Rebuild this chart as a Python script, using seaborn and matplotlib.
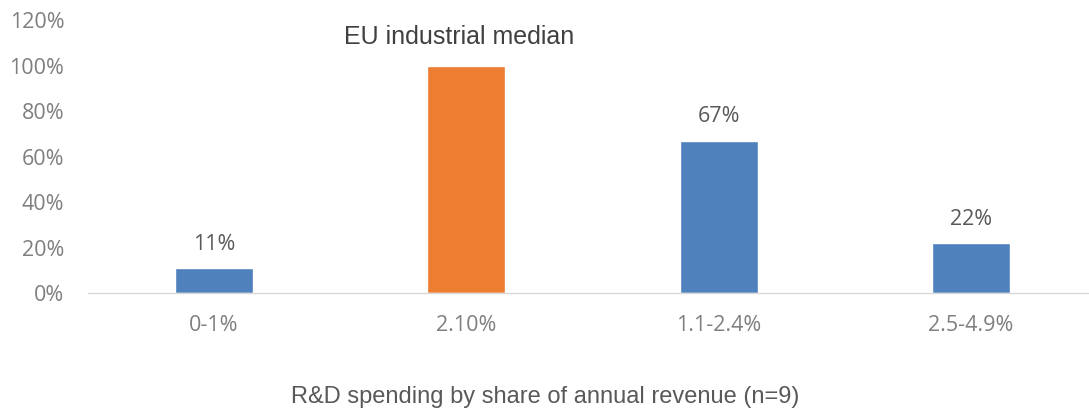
import matplotlib
matplotlib.use("Agg")
import matplotlib.pyplot as plt
import seaborn as sns
import pandas as pd

categories = ["0-1%", "2.10%", "1.1-2.4%", "2.5-4.9%"]
values = [11, 100, 67, 22]
value_labels = ["11%", "", "67%", "22%"]
highlight_label = "EU industrial median"
y_ticks = [0, 20, 40, 60, 80, 100, 120]
x_title = "R&D spending by share of annual revenue (n=9)"

colors = ["#4F81BD", "#ED7D31", "#4F81BD", "#4F81BD"]

sns.set_theme(style="white")
plt.rcParams["font.family"] = ["Open Sans", "DejaVu Sans"]

df = pd.DataFrame({"cat": categories, "val": values})

fig = plt.figure(figsize=(10.89, 4.15), dpi=100)
ax = fig.add_axes([88 / 1089, 122 / 415, 1009 / 1089, 273 / 415])
sns.barplot(data=df, x="cat", y="val", hue="cat", palette=colors, width=0.31,
            legend=False, ax=ax, saturation=1)

ax.set_xlim(-0.5, 3.5)
ax.set_ylim(0, 120)
ax.set_yticks(y_ticks)
ax.set_yticklabels([f"{t}%" for t in y_ticks], color="#7F7F7F", fontsize=15.5)
ax.tick_params(axis="x", colors="#7F7F7F", labelsize=15.5, pad=16, length=0)
ax.tick_params(axis="y", pad=17, length=0)
for lab in ax.get_xticklabels():
    lab.set_color("#7F7F7F")

for s in ["top", "right", "left"]:
    ax.spines[s].set_visible(False)
ax.spines["bottom"].set_color("#D9D9D9")
ax.spines["bottom"].set_linewidth(1)

for i, (v, lab) in enumerate(zip(values, value_labels)):
    if lab:
        ax.text(i, v + 8, lab, ha="center", va="baseline", color="#595959", fontsize=15.5)

ax.text(1 - 0.03, 109.5, highlight_label, ha="center", va="baseline",
        color="#404040", fontsize=18,
        family=["Liberation Sans", "DejaVu Sans"])

ax.set_xlabel("")
ax.set_ylabel("")
fig.text(545 / 1089, 1 - 403 / 415, x_title, ha="center", va="baseline",
         color="#595959", fontsize=17,
         family=["Liberation Sans", "DejaVu Sans"])

fig.savefig("out.png", dpi=100)
